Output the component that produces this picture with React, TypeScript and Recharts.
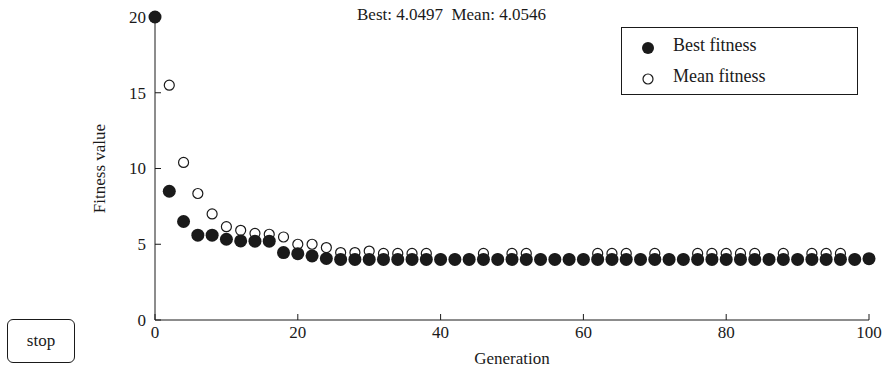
import React from "react";
import { ScatterChart, Scatter, XAxis, YAxis } from "recharts";

const generations = [
  0, 2, 4, 6, 8, 10, 12, 14, 16, 18, 20, 22, 24, 26, 28, 30, 32, 34, 36, 38, 40, 42, 44, 46, 48, 50,
  52, 54, 56, 58, 60, 62, 64, 66, 68, 70, 72, 74, 76, 78, 80, 82, 84, 86, 88, 90, 92, 94, 96, 98, 100,
];

const bestFitness = [
  20, 8.5, 6.5, 5.6, 5.6, 5.33, 5.22, 5.2, 5.2, 4.45, 4.38, 4.23, 4.06, 4.0, 4.0, 4.0, 4.0, 4.0, 4.0, 4.0,
  4.0, 4.0, 4.0, 4.0, 4.0, 4.0, 4.0, 4.0, 4.0, 4.0, 4.0, 4.0, 4.0, 4.0, 4.0, 4.0, 4.0, 4.0, 4.0, 4.0,
  4.0, 4.0, 4.0, 4.0, 4.0, 4.0, 4.0, 4.0, 4.0, 4.0, 4.05,
];

const meanFitness = [
  20, 15.5, 10.4, 8.35, 7.0, 6.16, 5.92, 5.72, 5.66, 5.48, 5.0, 5.0, 4.78, 4.45, 4.45, 4.55, 4.4, 4.4, 4.4, 4.4,
  4.02, 4.02, 4.02, 4.4, 4.02, 4.4, 4.4, 4.02, 4.02, 4.02, 4.02, 4.4, 4.4, 4.4, 4.02, 4.4, 4.02, 4.02, 4.4, 4.4,
  4.4, 4.4, 4.4, 4.02, 4.4, 4.02, 4.4, 4.4, 4.4, 4.02, 4.05,
];

const seriesNames = ["Best fitness", "Mean fitness"];
const xTicks = [0, 20, 40, 60, 80, 100];
const yTicks = [0, 5, 10, 15, 20];

const FONT = '"Liberation Serif", "Times New Roman", serif';
const INK = "#1a1a1a";

const bestData = generations.map((g, i) => ({ gen: g, value: bestFitness[i] }));
const meanData = generations.map((g, i) => ({ gen: g, value: meanFitness[i] }));

const YTick = (props: any) => {
  const { x, y, payload } = props;
  return (
    <g>
      <line x1={x} x2={x + 6} y1={y} y2={y} stroke={INK} />
      <text x={x - 9} y={y} dy="0.35em" textAnchor="end" fontSize={17} fontFamily={FONT} fill={INK}>
        {payload.value}
      </text>
    </g>
  );
};

const XTick = (props: any) => {
  const { x, y, payload } = props;
  return (
    <g>
      <line x1={x} x2={x} y1={y} y2={y - 6} stroke={INK} />
      <text x={x} y={y + 6} dy="0.71em" textAnchor="middle" fontSize={17} fontFamily={FONT} fill={INK}>
        {payload.value}
      </text>
    </g>
  );
};

// legend drawn by hand so it does not eat into the plot area
const LegendBox = () => (
  <div
    style={{
      position: "absolute",
      left: 621,
      top: 27,
      width: 235,
      height: 66,
      border: `1px solid ${INK}`,
      fontFamily: FONT,
      fontSize: 18,
      color: INK,
      background: "#fff",
    }}
  >
    <svg width={20} height={66} style={{ position: "absolute", left: 16, top: 0 }}>
      <circle cx={10} cy={20} r={6} fill={INK} />
      <circle cx={10} cy={51} r={5} fill="#fff" stroke={INK} strokeWidth={1.2} />
    </svg>
    <div style={{ position: "absolute", left: 51, top: 7 }}>{seriesNames[0]}</div>
    <div style={{ position: "absolute", left: 51, top: 38 }}>{seriesNames[1]}</div>
  </div>
);

export default function App() {
  return (
    <div style={{ position: "absolute", left: 0, top: 0, width: 887, height: 374, background: "#fff" }}>
      <div
        style={{
          position: "absolute",
          left: 357,
          top: 5,
          fontFamily: FONT,
          fontSize: 17,
          color: INK,
          whiteSpace: "pre",
        }}
      >
        {"Best: 4.0497  Mean: 4.0546"}
      </div>
      <ScatterChart width={887} height={374} margin={{ top: 17, right: 18, bottom: 24, left: 99 }}>
        <XAxis
          type="number"
          dataKey="gen"
          domain={[0, 100]}
          ticks={xTicks}
          tickSize={0}
          tickMargin={0}
          tickLine={false}
          tick={<XTick />}
          height={30}
          axisLine={{ stroke: INK }}
          label={{
            content: (p: any) => (
              <text
                x={p.viewBox.x + p.viewBox.width / 2}
                y={364}
                textAnchor="middle"
                fontSize={17}
                fontFamily={FONT}
                fill={INK}
              >
                Generation
              </text>
            ),
          }}
        />
        <YAxis
          type="number"
          dataKey="value"
          domain={[0, 20]}
          ticks={yTicks}
          tickSize={0}
          tickMargin={0}
          tickLine={false}
          tick={<YTick />}
          width={56}
          axisLine={{ stroke: INK }}
          label={{
            content: (p: any) => (
              <text
                transform={`translate(${p.viewBox.x + 6},${p.viewBox.y + p.viewBox.height / 2}) rotate(-90)`}
                textAnchor="middle"
                fontSize={17}
                fontFamily={FONT}
                fill={INK}
              >
                Fitness value
              </text>
            ),
          }}
        />
        <Scatter
          name={seriesNames[1]}
          data={meanData}
          isAnimationActive={false}
          shape={(p: any) => <circle cx={p.cx} cy={p.cy} r={5} fill="#fff" stroke={INK} strokeWidth={1.2} />}
        />
        <Scatter
          name={seriesNames[0]}
          data={bestData}
          isAnimationActive={false}
          shape={(p: any) => <circle cx={p.cx} cy={p.cy} r={6.5} fill={INK} />}
        />
      </ScatterChart>
      <LegendBox />
      <div
        style={{
          position: "absolute",
          left: 7,
          top: 319,
          width: 66,
          height: 42,
          border: `1.5px solid ${INK}`,
          borderRadius: 6,
          fontFamily: FONT,
          fontSize: 17,
          color: INK,
          display: "flex",
          alignItems: "center",
          justifyContent: "center",
        }}
      >
        stop
      </div>
    </div>
  );
}
